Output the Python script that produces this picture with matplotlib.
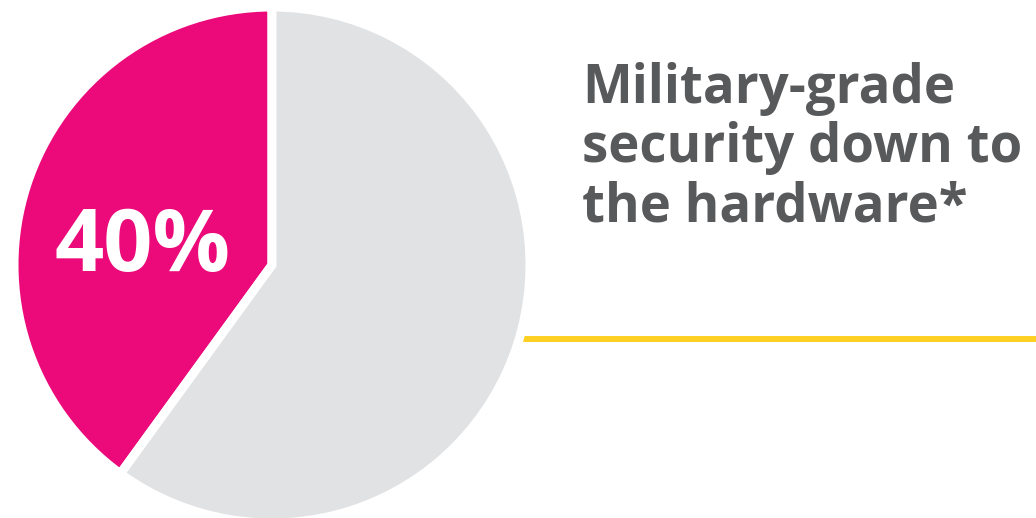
import matplotlib
matplotlib.use("Agg")
import matplotlib.pyplot as plt

labels = ["Military-grade security down to the hardware", "Other"]
values = [40, 60]
colors = ["#ec0a7b", "#e1e2e4"]
pct_label = "40%"
heading_lines = ["Military-grade", "security down to", "the hardware*"]

W, H = 1036, 518
fig = plt.figure(figsize=(W / 100, H / 100), dpi=100)
ax = fig.add_axes([0, 0, 1, 1])

# yellow rule behind pie
ax.plot([480, W], [H - 339, H - 339], color="#fdd023", lw=6 * 72 / 100,
        solid_capstyle="butt", zorder=1)

wedges, _ = ax.pie(values, colors=colors, startangle=90, counterclock=True,
                   center=(272, H - 265), radius=258, frame=True,
                   wedgeprops=dict(edgecolor="white", linewidth=9 * 72 / 100,
                                   joinstyle="miter"))
for w in wedges:
    w.set_zorder(2)
ax.set_xlim(0, W)
ax.set_ylim(0, H)
ax.set_aspect("auto")
ax.axis("off")

ax.text(143, H - 271, pct_label, color="white", fontsize=62, fontweight="bold",
        family="Open Sans", ha="center", va="baseline", zorder=3)

baselines = [103, 162, 221]
for line, b in zip(heading_lines, baselines):
    ax.text(582, H - b, line, color="#58595b", fontsize=38, fontweight="bold",
            family="Open Sans", ha="left", va="baseline", zorder=3)

fig.savefig("out.png", dpi=100)
